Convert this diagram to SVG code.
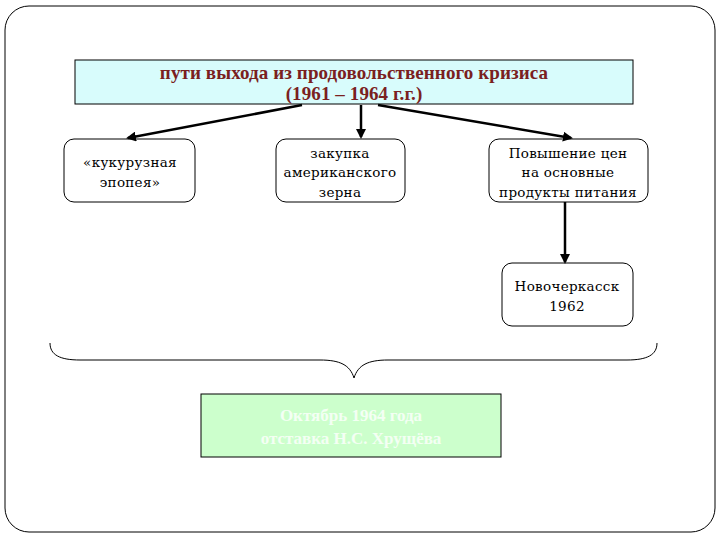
<svg xmlns="http://www.w3.org/2000/svg" width="720" height="540" viewBox="0 0 720 540">
<style>
.nd{fill:#fff;stroke:#000;stroke-width:1}
.t{font-family:"DejaVu Serif","Liberation Serif",serif;font-size:13.5px;fill:#000;text-anchor:middle;letter-spacing:0.3px}
.tt{font-family:"Liberation Serif","Times New Roman",serif;font-size:19px;font-weight:bold;fill:#7a2020;text-anchor:middle;letter-spacing:0.1px}
.tg{font-family:"Liberation Serif","Times New Roman",serif;font-size:17px;font-weight:bold;fill:#f4fff4;text-anchor:middle}
.c{stroke:#000;stroke-width:2.5;fill:none;marker-end:url(#ah)}
</style>
<defs>
<marker id="ah" viewBox="0 0 10 10" refX="8" refY="5" markerWidth="4" markerHeight="4" orient="auto" markerUnits="strokeWidth">
<path d="M0,0 L10,5 L0,10 z" fill="#000"/>
</marker>
</defs>
<rect width="720" height="540" fill="#fff"/>
<rect x="5" y="6" width="710" height="526" rx="24" ry="24" fill="#fff" stroke="#000" stroke-width="1"/>
<g id="top">
<rect x="75" y="60" width="558" height="44" fill="#d8fcfc" stroke="#000" stroke-width="1"/>
<text class="tt" x="354" y="79">пути выхода из продовольственного кризиса</text>
<text class="tt" x="354" y="100">(1961 – 1964 г.г.)</text>
</g>
<g id="n1">
<rect class="nd" x="64" y="139" width="131" height="63" rx="10"/>
<text class="t" x="130" y="167">«кукурузная</text>
<text class="t" x="130" y="187">эпопея»</text>
</g>
<g id="n2">
<rect class="nd" x="276" y="139" width="129" height="63" rx="10"/>
<text class="t" x="340" y="158">закупка</text>
<text class="t" x="340" y="177">американского</text>
<text class="t" x="340" y="197">зерна</text>
</g>
<g id="n3">
<rect class="nd" x="489" y="139" width="159" height="63" rx="10"/>
<text class="t" x="568" y="158">Повышение цен</text>
<text class="t" x="568" y="177">на основные</text>
<text class="t" x="568" y="197">продукты питания</text>
</g>
<g id="n4">
<rect class="nd" x="502" y="263" width="131" height="63" rx="10"/>
<text class="t" x="567" y="291">Новочеркасск</text>
<text class="t" x="567" y="311">1962</text>
</g>
<g id="n5">
<rect x="201" y="394" width="300" height="63" fill="#ccffcc" stroke="#000" stroke-width="1"/>
<text class="tg" x="351" y="421">Октябрь 1964 года</text>
<text class="tg" x="351" y="444">отставка Н.С. Хрущёва</text>
</g>
<g id="connectors">
<line class="c" x1="302" y1="105" x2="128" y2="138"/>
<line class="c" x1="361" y1="105" x2="361" y2="137"/>
<line class="c" x1="378" y1="105" x2="571" y2="138"/>
<line class="c" x1="565" y1="202" x2="565" y2="262"/>
<path d="M50,343 C50,355 60,360 80,360 L320,360 C340,360 350,365 354,378 C358,365 368,360 388,360 L627,360 C647,360 657,355 657,343" fill="none" stroke="#000" stroke-width="1"/>
</g>
</svg>
